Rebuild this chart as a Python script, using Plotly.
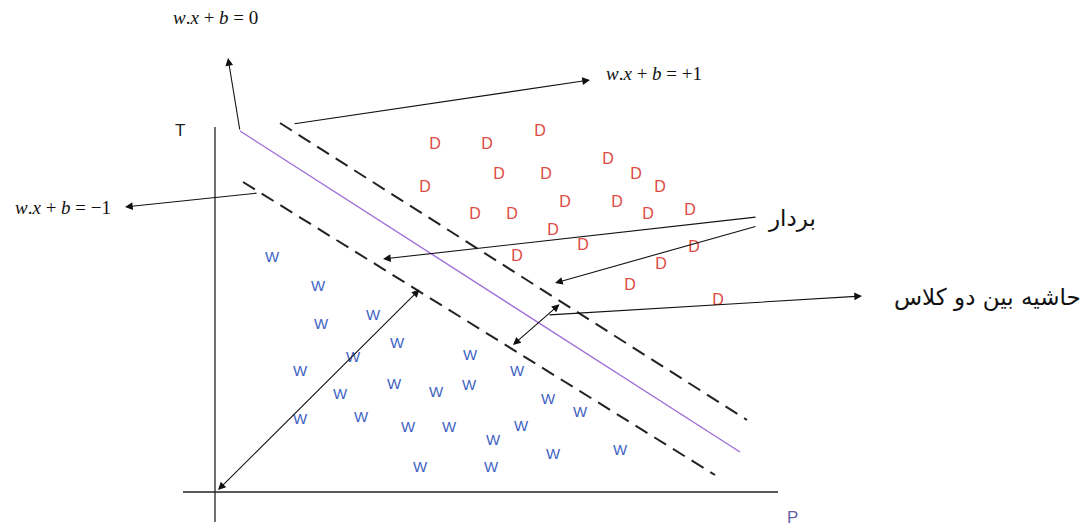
import plotly.graph_objects as go

# class D samples (pixel positions)
d_x = [435, 487, 540, 608, 499, 546, 636, 660, 425, 475, 512, 565, 617, 648, 690, 553, 583, 517, 694, 661, 630, 718]
d_y = [145, 145, 132, 160, 175, 175, 175, 188, 188, 215, 215, 203, 203, 215, 211, 231, 246, 257, 248, 265, 286, 301]

# class W samples
w_x = [272, 318, 373, 321, 397, 353, 470, 300, 340, 394, 436, 469, 517, 548, 580, 300, 361, 408, 449, 493, 521, 553, 620, 420, 491]
w_y = [258, 287, 316, 325, 344, 358, 356, 372, 395, 385, 393, 386, 372, 400, 413, 420, 418, 428, 428, 441, 427, 455, 451, 468, 468]

# hyperplane and margins (end points)
hyper_x = [240, 740]
hyper_y = [131, 452]
upper_x = [280, 747]
upper_y = [123, 420]
lower_x = [243, 715]
lower_y = [182, 475]

# axes
t_axis_x = [215, 215]
t_axis_y = [127, 522]
p_axis_x = [183, 778]
p_axis_y = [492, 492]

# arrows: (head_x, head_y, tail_x, tail_y, both ends)
arrows = [
    (228, 58, 240, 131, False),
    (590, 80, 293, 124, False),
    (125, 207, 258, 193, False),
    (383, 259, 757, 217, False),
    (555, 283, 757, 226, False),
    (862, 296, 548, 315, False),
    (218, 490, 421, 288, True),
    (513, 345, 561, 303, True),
]

eq = "<i>w</i>.<i>x</i> + <i>b</i> = "
labels = [
    (215, 17, eq + "0"),
    (654, 73, eq + "+1"),
    (63, 207, eq + "−1"),
]
fa_labels = [
    (792, 218, "بردار"),
    (987, 297, "حاشیه بین دو کلاس"),
]

fig = go.Figure()

fig.add_trace(go.Scatter(x=t_axis_x, y=t_axis_y, mode="lines", line=dict(color="#222", width=1.3)))
fig.add_trace(go.Scatter(x=p_axis_x, y=p_axis_y, mode="lines", line=dict(color="#222", width=1.3)))
fig.add_trace(go.Scatter(x=hyper_x, y=hyper_y, mode="lines", line=dict(color="#a070d8", width=1.4)))
fig.add_trace(go.Scatter(x=upper_x, y=upper_y, mode="lines", line=dict(color="#222", width=2, dash="14px,8px")))
fig.add_trace(go.Scatter(x=lower_x, y=lower_y, mode="lines", line=dict(color="#222", width=2, dash="14px,8px")))

fig.add_trace(go.Scatter(x=d_x, y=d_y, mode="text", text=["D"] * len(d_x),
                         textfont=dict(family="Liberation Sans", size=16, color="#de4a44")))
fig.add_trace(go.Scatter(x=w_x, y=w_y, mode="text", text=["W"] * len(w_x),
                         textfont=dict(family="Liberation Sans", size=15, color="#3f63c4")))

for hx, hy, tx, ty, both in arrows:
    fig.add_annotation(x=hx, y=hy, ax=tx, ay=ty, xref="x", yref="y", axref="x", ayref="y",
                       text="", showarrow=True, arrowhead=2, arrowsize=1.4, arrowwidth=1.1,
                       arrowcolor="#111", arrowside="end+start" if both else "end",
                       startarrowhead=2, startarrowsize=1.4)

for x, y, t in labels:
    fig.add_annotation(x=x, y=y, text=t, showarrow=False,
                       font=dict(family="Liberation Serif", size=19, color="#111"))
for x, y, t in fa_labels:
    fig.add_annotation(x=x, y=y, text=t, showarrow=False,
                       font=dict(family="DejaVu Sans", size=23, color="#111"))

fig.add_annotation(x=180, y=130, text="T", showarrow=False,
                   font=dict(family="Liberation Sans", size=17, color="#222"))
fig.add_annotation(x=792, y=517, text="P", showarrow=False,
                   font=dict(family="Liberation Sans", size=17, color="#6a5fa8"))

# page body has an 8px margin, so the ranges are shifted to keep pixel alignment
fig.update_layout(
    width=1091, height=527, margin=dict(l=0, r=0, t=0, b=0),
    showlegend=False, plot_bgcolor="white", paper_bgcolor="white",
    xaxis=dict(range=[8, 1099], visible=False, fixedrange=True),
    yaxis=dict(range=[535, 8], visible=False, fixedrange=True),
)

fig.write_html("out.html")
